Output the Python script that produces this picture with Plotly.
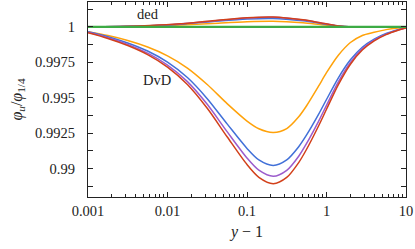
import plotly.graph_objects as go

x_dvd = [0.001, 0.00178, 0.00316, 0.00562, 0.01, 0.0178, 0.0316, 0.0562, 0.1, 0.141, 0.214,
         0.316, 0.447, 0.562, 0.794, 1.0, 1.41, 2.0, 2.82, 3.98, 5.62, 7.94, 10]

dvd_orange = [0.99966, 0.99939, 0.99904, 0.99858, 0.99796, 0.99710, 0.99594, 0.99459, 0.99336, 0.99282, 0.99256,
              0.99283, 0.99366, 0.99444, 0.99582, 0.99677, 0.99800, 0.99890, 0.99940, 0.99962, 0.99981, 0.99993, 0.99998]
dvd_blue   = [0.99966, 0.99931, 0.99887, 0.99830, 0.99752, 0.99643, 0.99494, 0.99316, 0.99143, 0.99062, 0.99023,
              0.99062, 0.99155, 0.99238, 0.99383, 0.99488, 0.99641, 0.99768, 0.99857, 0.99914, 0.99954, 0.99981, 0.99995]
dvd_purple = [0.99962, 0.99924, 0.99877, 0.99815, 0.99731, 0.99614, 0.99454, 0.99261, 0.99075, 0.98989, 0.98946,
              0.98988, 0.99088, 0.99178, 0.99334, 0.99447, 0.99613, 0.99750, 0.99845, 0.99907, 0.99949, 0.99979, 0.99994]
dvd_red    = [0.99959, 0.99919, 0.99869, 0.99805, 0.99717, 0.99594, 0.99426, 0.99225, 0.99029, 0.98939, 0.98894,
              0.98938, 0.99043, 0.99137, 0.99301, 0.99419, 0.99593, 0.99737, 0.99837, 0.99902, 0.99946, 0.99977, 0.99993]

x_ded = [0.001, 0.0025, 0.006, 0.0144, 0.037, 0.1, 0.212, 0.506, 0.828, 1.355, 2.15, 3.16, 10]
ded_orange = [1.0, 1.00002, 1.00006, 1.00013, 1.00025, 1.00037, 1.0004, 1.00029, 1.00017, 1.00005, 1.0, 1.0, 1.0]
ded_blue   = [1.0, 1.00003, 1.00008, 1.00019, 1.00038, 1.00056, 1.0006, 1.00043, 1.00026, 1.00007, 1.0, 1.0, 1.0]
ded_purple = [1.0, 1.00004, 1.00009, 1.00021, 1.00042, 1.00063, 1.00068, 1.00049, 1.00029, 1.00008, 1.0, 1.0, 1.0]
ded_red    = [1.0, 1.00004, 1.0001, 1.00022, 1.00044, 1.00065, 1.0007, 1.0005, 1.0003, 1.00008, 1.0, 1.0, 1.0]

x_green = [0.001, 10]
green = [1.0, 1.0]

xtick_vals = [0.001, 0.01, 0.1, 1, 10]
xtick_text = ["0.001", "0.01", "0.1", "1", "10"]
ytick_vals = [0.99, 0.9925, 0.995, 0.9975, 1.0]
ytick_text = ["0.99", "0.9925", "0.995", "0.9975", "1"]

C_ORANGE = "#ffa20a"
C_BLUE = "#4170d8"
C_PURPLE = "#9b5ccc"
C_RED = "#d2401a"
C_GREEN = "#3dab45"

FONT = "Liberation Serif"

fig = go.Figure()
for xs, ys, c in [
    (x_ded, ded_orange, C_ORANGE), (x_ded, ded_blue, C_BLUE),
    (x_ded, ded_purple, C_PURPLE), (x_ded, ded_red, C_RED),
    (x_dvd, dvd_orange, C_ORANGE), (x_dvd, dvd_blue, C_BLUE),
    (x_dvd, dvd_purple, C_PURPLE), (x_dvd, dvd_red, C_RED),
    (x_green, green, C_GREEN),
]:
    fig.add_trace(go.Scatter(x=xs, y=ys, mode="lines",
                             line=dict(color=c, width=1.5 if c != C_GREEN else 2.2,
                                       shape="spline", smoothing=0.8),
                             showlegend=False, hoverinfo="skip"))

fig.add_annotation(x=-2.245, y=1.00088, xref="x", yref="y", text="ded", showarrow=False,
                   font=dict(family=FONT, size=14.5, color="#222"))
fig.add_annotation(x=-2.13, y=0.99625, xref="x", yref="y", text="DvD", showarrow=False,
                   font=dict(family=FONT, size=14.5, color="#222"))

fig.update_layout(
    width=415, height=249,
    margin=dict(l=88, r=9, t=2, b=52),
    paper_bgcolor="white", plot_bgcolor="white",
    font=dict(family=FONT, size=14.5, color="#222"),
)
fig.update_xaxes(
    type="log", range=[-3, 1], tickvals=xtick_vals, ticktext=xtick_text,
    ticks="inside", ticklen=5, tickcolor="#222", showgrid=False, zeroline=False,
    showline=True, linecolor="#222", linewidth=1.3, mirror="ticks",
    ticklabeloverflow="allow", automargin=False,
    minor=dict(ticks="inside", ticklen=3, dtick="D1", showgrid=False, tickcolor="#222"),
    title=dict(text="<i>y</i> − 1", font=dict(family=FONT, size=16), standoff=8),
)
fig.update_yaxes(
    range=[0.988, 1.00176], tickvals=ytick_vals, ticktext=ytick_text,
    ticks="inside", ticklen=5, tickcolor="#222", showgrid=False, zeroline=False,
    showline=True, linecolor="#222", linewidth=1.3, mirror="ticks",
    automargin=False, ticklabelstandoff=9,
    minor=dict(ticks="inside", ticklen=5, tick0=0.99, dtick=0.00125, showgrid=False, tickcolor="#222"),
    title=dict(text="<i>φ<sub>u</sub></i>/<i>φ</i><sub>1/4</sub>", font=dict(family=FONT, size=16), standoff=8),
)

fig.write_html("out.html", config={"displayModeBar": False},
               post_script="document.body.style.margin='0';")
